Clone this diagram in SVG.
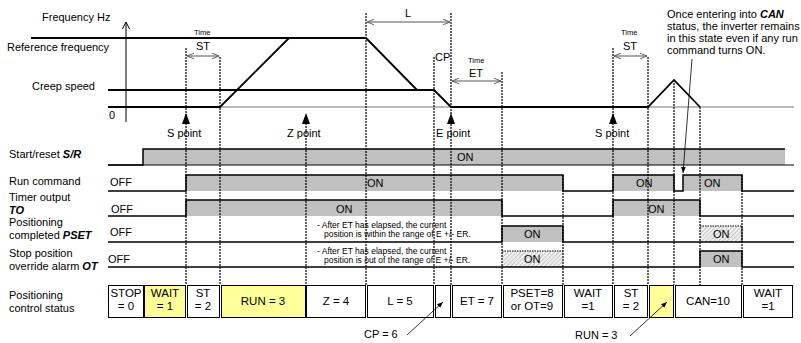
<svg xmlns="http://www.w3.org/2000/svg" width="801" height="343" viewBox="0 0 801 343">
<defs>
<style>
text{font-family:"Liberation Sans",Arial,sans-serif;fill:#000}
.lb{font-size:11px}
.sm{font-size:8.5px}
.tm{font-size:7.5px}
.st{font-size:11.5px;text-anchor:middle}
.on{font-size:11px}
.an{font-size:11px}
.bi{font-weight:bold;font-style:italic}
.v{stroke:#000;stroke-width:1.2;stroke-dasharray:2 1;fill:none}
.sig{stroke:#000;stroke-width:1.5;fill:none}
.g{fill:#c0c0c0;stroke:none}
.box{stroke:#000;stroke-width:1;fill:#fff}
.box.y{fill:#ffff99}
.dim{stroke:#555;stroke-width:1;fill:none;marker-start:url(#oa);marker-end:url(#oa)}
.tr{stroke:#000;stroke-width:1.8;fill:none}
</style>
<marker id="oa" viewBox="0 0 10 10" refX="10" refY="5" markerWidth="7" markerHeight="7" orient="auto-start-reverse" markerUnits="userSpaceOnUse"><polyline points="0,1 10,5 0,9" fill="none" stroke="#555" stroke-width="1.3"/></marker>
<marker id="fa" viewBox="0 0 10 10" refX="10" refY="5" markerWidth="6" markerHeight="6" orient="auto" markerUnits="userSpaceOnUse"><polygon points="0,1 10,5 0,9" fill="#000"/></marker>
<pattern id="hatch" width="3" height="3" patternUnits="userSpaceOnUse" patternTransform="rotate(45)"><rect width="3" height="3" fill="#f2f2f2"/><line x1="0" y1="0" x2="0" y2="3" stroke="#999" stroke-width="1"/></pattern>
</defs>
<rect width="801" height="343" fill="#fff"/>

<g id="freq-graph">
<text class="lb" x="42" y="21">Frequency Hz</text>
<text class="lb" x="7" y="51">Reference frequency</text>
<text class="lb" x="32" y="90">Creep speed</text>
<text class="lb" x="109" y="119">0</text>
<line x1="126" y1="122" x2="126" y2="23" stroke="#000" stroke-width="1"/>
<polyline points="122.5,29 126,22 129.5,29" fill="none" stroke="#000" stroke-width="1"/>
<line x1="31" y1="38" x2="366" y2="38" class="tr"/>
<line x1="108" y1="90" x2="434" y2="90" class="tr"/>
<line x1="108" y1="107" x2="794" y2="107" stroke="#777" stroke-width="1.2"/>
<polyline class="tr" points="108,107 220,107 289,38 366,38 417,90 434,90 451,107 648,107 674,80 700,107"/>
<text class="tm" x="194" y="35">Time</text>
<text class="lb" x="196" y="50">ST</text>
<line class="dim" x1="187" y1="56" x2="219" y2="56"/>
<text class="lb" x="405" y="17">L</text>
<line class="dim" x1="367" y1="22" x2="450" y2="22"/>
<text class="lb" x="435" y="61">CP</text>
<text class="tm" x="468" y="63">Time</text>
<text class="lb" x="469" y="77">ET</text>
<line class="dim" x1="452" y1="81" x2="501" y2="81"/>
<text class="tm" x="621" y="35">Time</text>
<text class="lb" x="623" y="50">ST</text>
<line class="dim" x1="614" y1="56" x2="647" y2="56"/>
</g>

<g id="point-markers">
<polygon points="186,113 182,124 190,124" fill="#000"/>
<polygon points="306,113 302,124 310,124" fill="#000"/>
<polygon points="451,113 447,124 455,124" fill="#000"/>
<polygon points="613,113 609,124 617,124" fill="#000"/>
<text class="lb" x="167" y="137">S point</text>
<text class="lb" x="287" y="137">Z point</text>
<text class="lb" x="436" y="137">E point</text>
<text class="lb" x="595" y="137">S point</text>
</g>

<g id="labels">
<text class="lb" x="9" y="158">Start/reset <tspan class="bi">S/R</tspan></text>
<text class="lb" x="9" y="185">Run command</text>
<text class="lb" x="9" y="201">Timer output</text>
<text class="lb bi" x="9" y="214">TO</text>
<text class="lb" x="9" y="226">Positioning</text>
<text class="lb" x="9" y="239">completed <tspan class="bi">PSET</tspan></text>
<text class="lb" x="9" y="257">Stop position</text>
<text class="lb" x="9" y="270">override alarm <tspan class="bi">OT</tspan></text>
<text class="lb" x="9" y="299">Positioning</text>
<text class="lb" x="9" y="312">control status</text>
</g>

<g id="signal-SR">
<rect class="g" x="143" y="149" width="642" height="16"/>
<line x1="108" y1="165" x2="794" y2="165" stroke="#000" stroke-width="1.2"/>
<polyline class="sig" points="108,165 143,165 143,149 785,149"/>
<text class="on" x="457" y="161">ON</text>
</g>

<g id="signal-run">
<rect class="g" x="186" y="175" width="377" height="16"/>
<rect class="g" x="613" y="175" width="61" height="16"/>
<rect class="g" x="683" y="175" width="59" height="16"/>
<polyline class="sig" points="108,191 186,191 186,175 563,175 563,191 613,191 613,175 674,175 674,191 683,191 683,175 742,175 742,191 794,191"/>
<text class="on" x="110" y="186">OFF</text>
<text class="on" x="367" y="187">ON</text>
<text class="on" x="636" y="187">ON</text>
<text class="on" x="704" y="187">ON</text>
</g>

<g id="signal-TO">
<rect class="g" x="186" y="200" width="316" height="16"/>
<rect class="g" x="613" y="200" width="87" height="16"/>
<polyline class="sig" points="108,216 186,216 186,200 502,200 502,216 613,216 613,200 700,200 700,216 794,216"/>
<text class="on" x="111" y="213">OFF</text>
<text class="on" x="336" y="213">ON</text>
<text class="on" x="648" y="213">ON</text>
</g>

<g id="signal-PSET">
<rect class="g" x="502" y="226" width="61" height="16"/>
<rect x="700" y="226" width="42" height="16" fill="url(#hatch)"/>
<polyline class="sig" points="108,242 502,242 502,226 563,226 563,242 794,242"/>
<line x1="700" y1="226" x2="742" y2="226" stroke="#000" stroke-width="1.2" stroke-dasharray="1.5 1"/>
<line x1="742" y1="226" x2="742" y2="242" stroke="#000" stroke-width="1"/>
<text class="on" x="110" y="236">OFF</text>
<text class="sm" x="317" y="228">- After ET has elapsed, the current</text>
<text class="sm" x="324" y="237">position is within the range of E +/- ER.</text>
<text class="on" x="524" y="238">ON</text>
<text class="on" x="713" y="238">ON</text>
</g>

<g id="signal-OT">
<rect x="502" y="251" width="61" height="16" fill="url(#hatch)"/>
<rect class="g" x="700" y="251" width="42" height="16"/>
<polyline class="sig" points="108,267 700,267 700,251 742,251 742,267 794,267"/>
<line x1="502" y1="251" x2="563" y2="251" stroke="#000" stroke-width="1.2" stroke-dasharray="1.5 1"/>
<text class="on" x="108" y="263">OFF</text>
<text class="sm" x="317" y="254">- After ET has elapsed, the current</text>
<text class="sm" x="324" y="263">position is out of the range of E +/- ER.</text>
<text class="on" x="524" y="263">ON</text>
<text class="on" x="713" y="263">ON</text>
</g>

<g id="status">
<rect class="box" x="108.5" y="285.5" width="35" height="32"/>
<rect class="box y" x="144.5" y="285.5" width="41" height="32"/>
<rect class="box" x="187.5" y="285.5" width="32" height="32"/>
<rect class="box y" x="221.5" y="285.5" width="84" height="32"/>
<rect class="box" x="306.5" y="285.5" width="59" height="32"/>
<rect class="box" x="367.5" y="285.5" width="66" height="32"/>
<rect class="box" x="435.5" y="285.5" width="15" height="32"/>
<rect class="box" x="452.5" y="285.5" width="49" height="32"/>
<rect class="box" x="503.5" y="285.5" width="59" height="32"/>
<rect class="box" x="564.5" y="285.5" width="48" height="32"/>
<rect class="box" x="614.5" y="285.5" width="33" height="32"/>
<rect class="box y" x="649.5" y="285.5" width="24" height="32"/>
<rect class="box" x="675.5" y="285.5" width="66" height="32"/>
<rect class="box" x="743.5" y="285.5" width="49" height="32"/>
<text class="st" x="126" y="297">STOP</text><text class="st" x="126" y="310">= 0</text>
<text class="st" x="165" y="297">WAIT</text><text class="st" x="165" y="310">= 1</text>
<text class="st" x="203" y="297">ST</text><text class="st" x="203" y="310">= 2</text>
<text class="st" x="263" y="305">RUN = 3</text>
<text class="st" x="336" y="305">Z = 4</text>
<text class="st" x="400" y="305">L = 5</text>
<text class="st" x="477" y="305">ET = 7</text>
<text class="st" x="532" y="297">PSET=8</text><text class="st" x="532" y="310">or OT=9</text>
<text class="st" x="588" y="297">WAIT</text><text class="st" x="588" y="310">=1</text>
<text class="st" x="631" y="297">ST</text><text class="st" x="631" y="310">= 2</text>
<text class="st" x="708" y="305">CAN=10</text>
<text class="st" x="768" y="297">WAIT</text><text class="st" x="768" y="310">=1</text>
</g>

<g id="connectors">
<line class="v" x1="186" y1="48" x2="186" y2="285"/>
<line class="v" x1="220" y1="57" x2="220" y2="285"/>
<line class="v" x1="306" y1="120" x2="306" y2="285"/>
<line class="v" x1="366" y1="13" x2="366" y2="285"/>
<line class="v" x1="434" y1="57" x2="434" y2="285"/>
<line class="v" x1="451" y1="13" x2="451" y2="285"/>
<line class="v" x1="502" y1="72" x2="502" y2="285"/>
<line class="v" x1="563" y1="175" x2="563" y2="285"/>
<line class="v" x1="613" y1="48" x2="613" y2="285"/>
<line class="v" x1="648" y1="57" x2="648" y2="285"/>
<line class="v" x1="674" y1="80" x2="674" y2="285"/>
<line class="v" x1="700" y1="107" x2="700" y2="285"/>
<line class="v" x1="742" y1="175" x2="742" y2="285"/>
<line x1="692" y1="59" x2="683" y2="173" stroke="#000" stroke-width="0.8" marker-end="url(#fa)"/>
<line x1="407" y1="335" x2="443" y2="302" stroke="#000" stroke-width="0.8" marker-end="url(#fa)"/>
<line x1="630" y1="336" x2="667" y2="302" stroke="#000" stroke-width="0.8" marker-end="url(#fa)"/>
</g>

<g id="annotations">
<text class="an" x="667" y="18">Once entering into <tspan class="bi">CAN</tspan></text>
<text class="an" x="667" y="30">status, the inverter remains</text>
<text class="an" x="667" y="42">in this state even if any run</text>
<text class="an" x="667" y="54">command turns ON.</text>
<text class="lb" x="364" y="338">CP = 6</text>
<text class="lb" x="575" y="339">RUN = 3</text>
</g>
</svg>
